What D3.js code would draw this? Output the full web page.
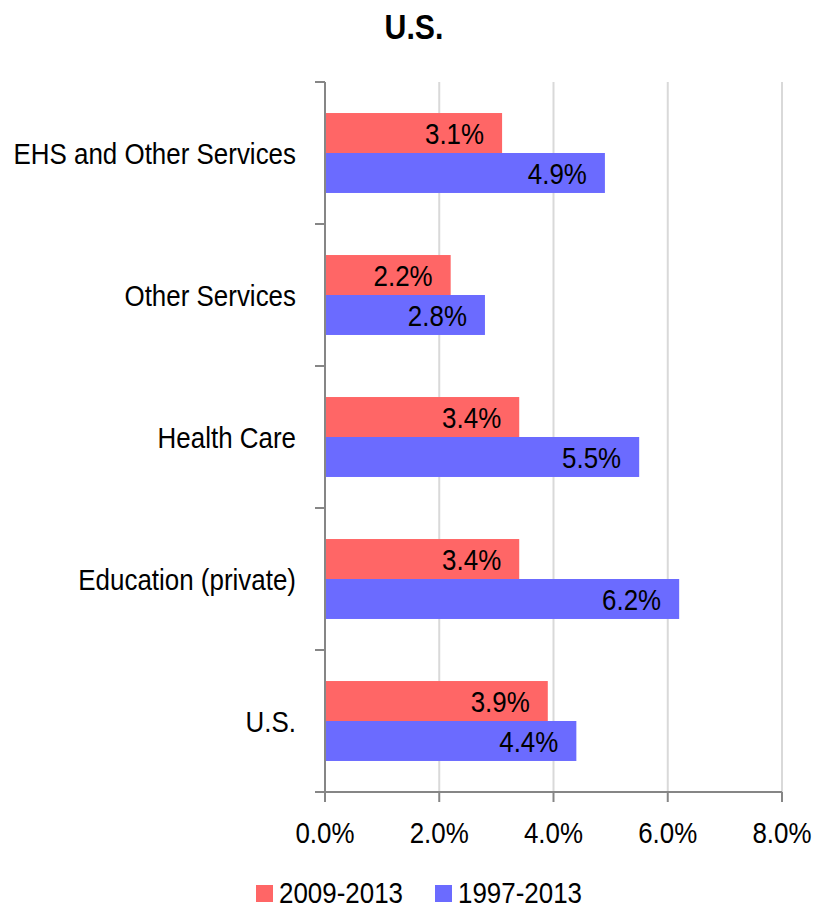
<!DOCTYPE html>
<html>
<head>
<meta charset="utf-8">
<script src="https://cdn.jsdelivr.net/npm/d3@7"></script>
<style>
  body { margin: 0; background: #fff; }
  svg text { font-family: "Liberation Sans", Arial, sans-serif; fill: #000; }
</style>
</head>
<body>
<svg width="813" height="909"></svg>
<script>
var categories = ["EHS and Other Services", "Other Services", "Health Care", "Education (private)", "U.S."];
var series = ["2009-2013", "1997-2013"];
var recent = [3.1, 2.2, 3.4, 3.4, 3.9];
var longRun = [4.9, 2.8, 5.5, 6.2, 4.4];
var xTicks = [0, 2, 4, 6, 8];
var colors = ["#ff6666", "#6b6bff"];

var svg = d3.select("svg"),
    width = +svg.attr("width"),
    height = +svg.attr("height"),
    narrow = 0.865; // squeeze text to look like Arial Narrow

function place(x, y) {
  return "translate(" + x + "," + y + ") scale(" + narrow + ",1)";
}

var x = d3.scaleLinear().domain([0, 8]).range([325, 782]);
var y = d3.scaleBand().domain(categories).range([82, 792])
    .paddingInner(0.437).paddingOuter(0.2185);
var ySub = d3.scaleBand().domain(series).range([0, y.bandwidth()]);

var rows = categories.map(function(c, i) {
  return {cat: c, values: [recent[i], longRun[i]]};
});

// title
svg.append("text")
    .attr("transform", place(414, 39))
    .attr("text-anchor", "middle")
    .style("font-size", "35px").style("font-weight", "bold")
    .text("U.S.");

// gridlines
svg.append("g").selectAll("line")
  .data(xTicks.slice(1))
  .enter().append("line")
    .attr("x1", function(d) { return x(d); })
    .attr("x2", function(d) { return x(d); })
    .attr("y1", 82).attr("y2", 792)
    .style("stroke", "#d9d9d9").style("stroke-width", 2);

// bars
var group = svg.append("g").selectAll("g")
  .data(rows)
  .enter().append("g")
    .attr("transform", function(d) { return "translate(0," + y(d.cat) + ")"; });

group.selectAll("rect")
  .data(function(d) { return d.values; })
  .enter().append("rect")
    .attr("x", x(0))
    .attr("y", function(d, i) { return ySub(series[i]); })
    .attr("width", function(d) { return x(d) - x(0); })
    .attr("height", ySub.bandwidth())
    .style("fill", function(d, i) { return colors[i]; });

group.selectAll("text")
  .data(function(d) { return d.values; })
  .enter().append("text")
    .attr("transform", function(d, i) {
      return place(x(d) - 18, ySub(series[i]) + ySub.bandwidth() / 2);
    })
    .attr("dy", "0.36em")
    .attr("text-anchor", "end")
    .style("font-size", "30px")
    .text(function(d) { return d.toFixed(1) + "%"; });

// y axis
var axisColor = "#868686";
svg.append("line")
    .attr("x1", x(0)).attr("x2", x(0))
    .attr("y1", 82).attr("y2", 792)
    .style("stroke", axisColor).style("stroke-width", 2);

var bounds = categories.map(function(c) { return y(c) - y.step() * y.paddingInner() / 2; }).concat([792]);
svg.append("g").selectAll("line")
  .data(bounds)
  .enter().append("line")
    .attr("x1", x(0) - 10).attr("x2", x(0))
    .attr("y1", function(d) { return d; }).attr("y2", function(d) { return d; })
    .style("stroke", axisColor).style("stroke-width", 2);

svg.append("g").selectAll("text")
  .data(categories)
  .enter().append("text")
    .attr("transform", function(d) { return place(296, y(d) + y.bandwidth() / 2); })
    .attr("dy", "0.36em")
    .attr("text-anchor", "end")
    .style("font-size", "30px")
    .text(function(d) { return d; });

// x axis
svg.append("line")
    .attr("x1", x(0) - 10).attr("x2", x(8))
    .attr("y1", 792).attr("y2", 792)
    .style("stroke", axisColor).style("stroke-width", 2);

svg.append("g").selectAll("line")
  .data(xTicks)
  .enter().append("line")
    .attr("x1", function(d) { return x(d); }).attr("x2", function(d) { return x(d); })
    .attr("y1", 792).attr("y2", 802)
    .style("stroke", axisColor).style("stroke-width", 2);

svg.append("g").selectAll("text")
  .data(xTicks)
  .enter().append("text")
    .attr("transform", function(d) { return place(x(d), 843); })
    .attr("text-anchor", "middle")
    .style("font-size", "30px")
    .text(function(d) { return d.toFixed(1) + "%"; });

// legend
var legendX = [256, 435];
var legend = svg.append("g").selectAll("g")
  .data(series)
  .enter().append("g")
    .attr("transform", function(d, i) { return "translate(" + legendX[i] + ",885)"; });

legend.append("rect")
    .attr("width", 17).attr("height", 17)
    .style("fill", function(d, i) { return colors[i]; });

legend.append("text")
    .attr("transform", place(23, 18))
    .style("font-size", "30px")
    .text(function(d) { return d; });
</script>
</body>
</html>
